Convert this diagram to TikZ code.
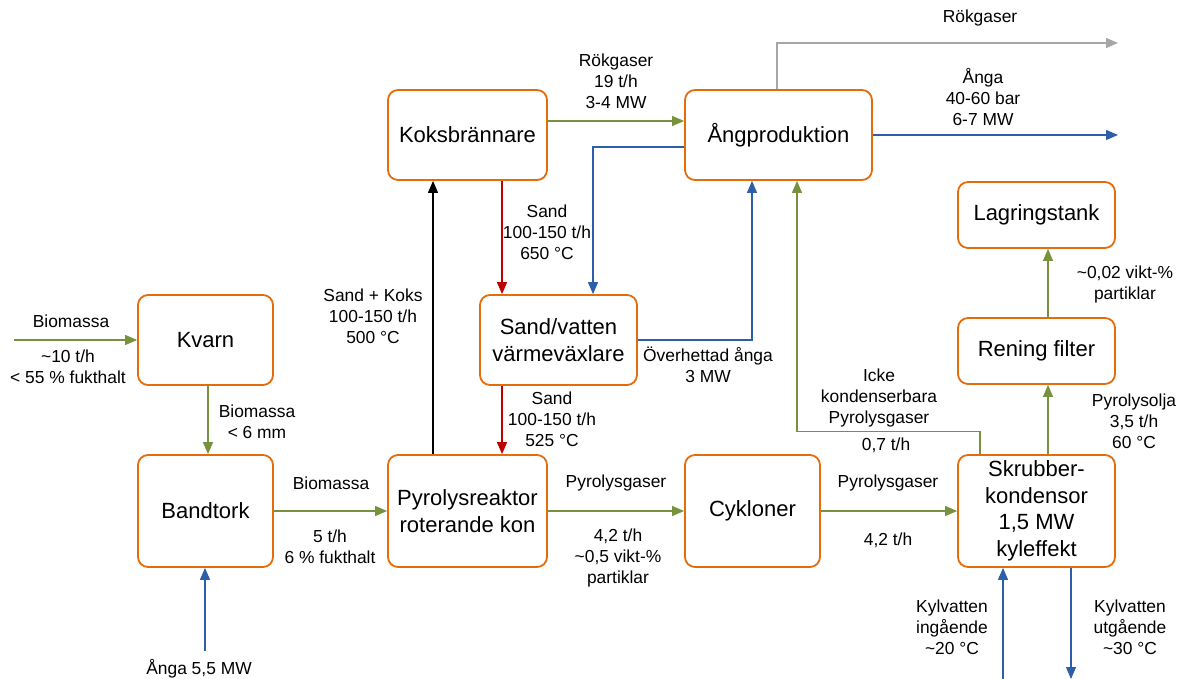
\documentclass[tikz,border=0pt]{standalone}
\usepackage{fontspec}
\setmainfont{Liberation Sans}
\usetikzlibrary{arrows.meta}
\definecolor{boxorange}{RGB}{228,108,10}
\definecolor{flowgreen}{RGB}{118,146,60}
\definecolor{flowblue}{RGB}{44,94,170}
\definecolor{flowred}{RGB}{192,0,0}
\definecolor{flowgray}{RGB}{166,166,166}
\begin{document}
\begin{tikzpicture}[x=1pt,y=-1pt,
  unit/.style={draw=boxorange,line width=1.8pt,rounded corners=10pt,align=center,
    inner sep=0pt,font=\fontsize{22}{26.6}\selectfont},
  lbl/.style={align=center,inner sep=0pt,font=\fontsize{17.4}{20.8}\selectfont},
  flow/.style={line width=1.1pt,-{Triangle[length=12pt,width=10pt]}},
  gflow/.style={flow,draw=flowgreen},
  bflow/.style={flow,draw=flowblue},
  rflow/.style={flow,draw=flowred},
  kflow/.style={flow,draw=black},
  aflow/.style={flow,draw=flowgray}]
\useasboundingbox (0,0) rectangle (1180,679);

% process units
\node[unit,minimum width=159pt,minimum height=90pt] (koks) at (467.5,135) {Koksbrännare};
\node[unit,minimum width=187pt,minimum height=90pt] (ang) at (778.5,135) {Ångproduktion};
\node[unit,minimum width=135pt,minimum height=90pt] (kvarn) at (205.5,340) {Kvarn};
\node[unit,minimum width=157pt,minimum height=90pt] (sv) at (558.5,340) {Sand/vatten\\värmeväxlare};
\node[unit,minimum width=135pt,minimum height=112pt] (band) at (205.5,511) {Bandtork};
\node[unit,minimum width=159pt,minimum height=112pt] (pyro) at (467.5,511) {Pyrolysreaktor\\roterande kon};
\node[unit,minimum width=135pt,minimum height=112pt] (cyk) at (752.5,511) {Cykloner};
\node[unit,minimum width=157pt,minimum height=112pt] (skr) at (1036.5,511) {Skrubber-\\kondensor\\1,5 MW\\kyleffekt};
\node[unit,minimum width=157pt,minimum height=66pt] (ren) at (1036.5,351) {Rening filter};
\node[unit,minimum width=157pt,minimum height=66pt] (lag) at (1036.5,215) {Lagringstank};

% free ends and branch points
\coordinate (bioin) at (14,340);
\coordinate (steamin) at (205,651);
\coordinate (rokut) at (1118,43);
\coordinate (angut) at (1118,135);
\coordinate (kin) at (1003,679);
\coordinate (kout) at (1071,679);
\coordinate (kr) at ([xshift=34.5pt]koks.south);
\coordinate (kb) at ([xshift=-34.5pt]pyro.north);
\coordinate (sg) at ([xshift=-56.5pt]skr.north);
\coordinate (ag) at ([xshift=18.5pt]ang.south);
\coordinate (so) at ([xshift=11.5pt]skr.north);
\coordinate (km) at ([xshift=2.5pt]kvarn.south);
\coordinate (ar) at ([xshift=-1.5pt]ang.north);

% biomass line
\draw[gflow] (bioin) -- (kvarn.west);
\draw[gflow] (km) -- (km |- band.north);
\draw[gflow] (band.east) -- (pyro.west);
\draw[bflow] (steamin) -- (steamin |- band.south);

% sand loop
\draw[kflow] (kb) -- (kb |- koks.south);
\draw[rflow] (kr) -- (kr |- sv.north);
\draw[rflow] (kr |- sv.south) -- (kr |- pyro.north);

% steam system
\draw[gflow] ([yshift=14pt]koks.east) -- ([yshift=14pt]ang.west);
\draw[bflow] ([yshift=-12pt]ang.west) -| ([xshift=34.5pt]sv.north);
\draw[bflow] (sv.east) -| ([xshift=-26.5pt]ang.south);
\draw[aflow] (ar) |- (rokut);
\draw[bflow] (ang.east) -- (angut);

% gas and oil path
\draw[gflow] (pyro.east) -- (cyk.west);
\draw[gflow] (cyk.east) -- (skr.west);
\draw[gflow] (sg) -- ++(0,-23) -| (ag);
\draw[gflow] (so) -- (so |- ren.south);
\draw[gflow] (so |- ren.north) -- (so |- lag.south);

% cooling water
\draw[bflow] (kin) -- (kin |- skr.south);
\draw[bflow] (kout |- skr.south) -- (kout);

% stream labels
\node[lbl] (l1) at (71,321) {Biomassa};
\node[lbl] (l2) at (68,367) {\textasciitilde10 t/h\\< 55 \% fukthalt};
\node[lbl] (l3) at (257,421.5) {Biomassa\\< 6 mm};
\node[lbl] (l4) at (331,483) {Biomassa};
\node[lbl] (l5) at (330,546.5) {5 t/h\\6 \% fukthalt};
\node[lbl] (l6) at (199,669) {Ånga 5,5 MW};
\node[lbl] (l7) at (373,316) {Sand + Koks\\100-150 t/h\\500 °C};
\node[lbl] (l8) at (547,232) {Sand\\100-150 t/h\\650 °C};
\node[lbl] (l9) at (552,419) {Sand\\100-150 t/h\\525 °C};
\node[lbl] (l10) at (708,365) {Överhettad ånga\\3 MW};
\node[lbl] (l11) at (616,81) {Rökgaser\\19 t/h\\3-4 MW};
\node[lbl] (l12) at (980,18) {Rökgaser};
\node[lbl] (l13) at (983,97) {Ånga\\40-60 bar\\6-7 MW};
\node[lbl] (l14) at (616,483) {Pyrolysgaser};
\node[lbl] (l15) at (618,558) {4,2 t/h\\\textasciitilde0,5 vikt-\%\\partiklar};
\node[lbl] (l16) at (888,483) {Pyrolysgaser};
\node[lbl] (l17) at (888,540) {4,2 t/h};
\node[lbl] (l18) at (879,398) {Icke\\kondenserbara\\Pyrolysgaser};
\node[lbl] (l19) at (886,445) {0,7 t/h};
\node[lbl] (l20) at (1134,421) {Pyrolysolja\\3,5 t/h\\60 °C};
\node[lbl] (l21) at (1125,284.5) {\textasciitilde0,02 vikt-\%\\partiklar};
\node[lbl] (l22) at (952,627) {Kylvatten\\ingående\\\textasciitilde20 °C};
\node[lbl] (l23) at (1130,627) {Kylvatten\\utgående\\\textasciitilde30 °C};
\end{tikzpicture}
\end{document}
